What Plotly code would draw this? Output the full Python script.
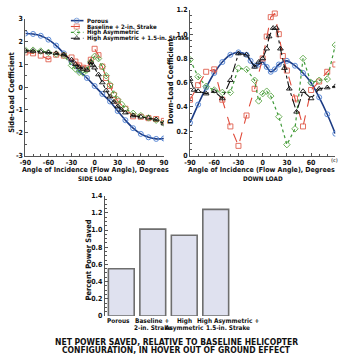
import plotly.graph_objects as go

# ---------------- data ----------------
# Side load (left panel)
side_porous_x = [-90, -80, -70, -60, -50, -40, -30, -20, -10, 0, 10, 20, 30, 40, 50, 60, 70, 80, 90]
side_porous_y = [2.35, 2.33, 2.25, 2.08, 1.82, 1.48, 1.10, 0.72, 0.40, 0.05, -0.30, -0.63, -1.05, -1.45, -1.80, -2.05, -2.20, -2.27, -2.25]

side_base_x = [-90, -80, -70, -60, -50, -40, -30, -25, -20, -15, -10, -5, 0, 5, 10, 15, 20, 25, 30, 40, 50, 60, 70, 80, 90]
side_base_y = [1.52, 1.48, 1.38, 1.22, 1.42, 1.38, 1.30, 1.12, 0.95, 0.85, 0.82, 1.20, 1.68, 1.40, 0.90, 0.40, 0.05, -0.35, -0.62, -0.95, -1.28, -1.30, -1.36, -1.40, -1.48]

side_high_x = [-90, -80, -70, -60, -50, -40, -30, -25, -20, -15, -10, -5, 0, 5, 10, 15, 20, 25, 30, 35, 40, 50, 60, 70, 80, 90]
side_high_y = [1.62, 1.62, 1.58, 1.52, 1.45, 1.40, 0.95, 0.80, 0.65, 0.62, 0.75, 1.10, 1.35, 1.25, 0.90, 0.50, 0.10, -0.30, -0.55, -0.75, -0.95, -1.15, -1.25, -1.35, -1.45, -1.58]

side_hs_x = [-90, -80, -70, -60, -50, -40, -30, -25, -20, -15, -10, -5, -2, 0, 5, 10, 15, 20, 25, 30, 35, 40, 50, 60, 70, 80, 90]
side_hs_y = [1.60, 1.58, 1.55, 1.52, 1.48, 1.42, 1.20, 1.00, 0.88, 0.80, 0.75, 1.10, 0.95, 0.85, 0.55, 0.20, -0.15, -0.42, -0.65, -0.85, -1.00, -1.12, -1.25, -1.30, -1.35, -1.42, -1.60]

# Down load (right panel)
down_porous_x = [-90, -80, -70, -60, -50, -40, -30, -20, -15, -10, -5, 0, 5, 10, 15, 20, 30, 40, 50, 60, 70, 80, 90]
down_porous_y = [0.27, 0.42, 0.56, 0.68, 0.77, 0.83, 0.85, 0.83, 0.78, 0.74, 0.75, 0.77, 0.73, 0.69, 0.71, 0.75, 0.78, 0.74, 0.68, 0.60, 0.48, 0.34, 0.18]

down_base_x = [-90, -80, -70, -60, -50, -40, -30, -20, -10, 0, 5, 10, 15, 20, 25, 30, 40, 50, 60, 70, 80, 90]
down_base_y = [0.46, 0.58, 0.69, 0.71, 0.46, 0.24, 0.08, 0.33, 0.55, 0.80, 0.98, 1.14, 1.17, 1.00, 0.82, 0.70, 0.47, 0.24, 0.54, 0.61, 0.69, 0.75]

down_high_x = [-90, -80, -70, -60, -50, -40, -30, -20, -10, -5, 0, 5, 10, 20, 30, 40, 50, 60, 70, 80, 90]
down_high_y = [0.79, 0.65, 0.57, 0.54, 0.52, 0.52, 0.72, 0.71, 0.62, 0.45, 0.51, 0.53, 0.49, 0.32, 0.09, 0.22, 0.80, 0.60, 0.62, 0.63, 0.91]

down_hs_x = [-90, -85, -80, -70, -60, -50, -40, -30, -20, -10, -5, 0, 5, 8, 13, 17, 22, 27, 33, 42, 50, 60, 70, 80, 90]
down_hs_y = [0.63, 0.54, 0.53, 0.51, 0.53, 0.47, 0.62, 0.84, 0.83, 0.73, 0.77, 0.80, 0.88, 0.98, 1.05, 1.05, 0.88, 0.72, 0.55, 0.36, 0.53, 0.47, 0.55, 0.56, 0.57]

# Bar chart
bar_categories = ["Porous", "Baseline + 2-in. Strake", "High Asymmetric", "High Asymmetric + 1.5-in. Strake"]
bar_label_lines = [["Porous"], ["Baseline +", "2-in. Strake"], ["High", "Asymmetric"],
                   ["High Asymmetric +", "1.5-in. Strake"]]
bar_values = [0.55, 1.01, 0.94, 1.24]

# Tick labels
angle_ticks = [-90, -60, -30, 0, 30, 60, 90]
angle_labels_left = ["-90", "-60", "-30", "0", "30", "60", "90"]
angle_labels_right = ["-90", "-60", "-30", "0", "30", "60", ""]
side_ticks = [-3, -2, -1, 0, 1, 2, 3]
side_labels = ["-3", "-2", "-1", "0", "1", "2", "3"]
down_ticks = [0, 0.2, 0.4, 0.6, 0.8, 1.0, 1.2]
down_labels = ["0", "0.2", "0.4", "0.6", "0.8", "1.0", "1.2"]
bar_ticks = [0, 0.2, 0.4, 0.6, 0.8, 1.0, 1.2, 1.4]
bar_labels = ["0", "0.2", "0.4", "0.6", "0.8", "1.0", "1.2", "1.4"]

series_names = ["Porous", "Baseline + 2-in. Strake", "High Asymmetric", "High Asymmetric + 1.5-in. Strake"]

# ---------------- styling ----------------
W, H = 350, 361
F = "DejaVu Sans Condensed, Liberation Sans Narrow, Liberation Sans, sans-serif"
AX = "#555555"
styles = [
    dict(line=dict(color="#1d3c84", width=1.6, dash="solid", shape="spline"),
         marker=dict(symbol="circle-open", size=5, color="#4d7fd1", line=dict(width=0.9))),
    dict(line=dict(color="#e04a3a", width=1.1, dash="dash"),
         marker=dict(symbol="square-open", size=5, color="#e0604f", line=dict(width=0.9))),
    dict(line=dict(color="#3f9a3a", width=1.2, dash="dot"),
         marker=dict(symbol="diamond-open", size=5, color="#5fa84a", line=dict(width=0.9))),
    dict(line=dict(color="#111111", width=1.1, dash="dashdot"),
         marker=dict(symbol="triangle-up-open", size=5, color="#111111", line=dict(width=0.9))),
]


def px(x):
    return x / W


def py(y):
    return 1 - y / H


fig = go.Figure()

side_sets = [(side_porous_x, side_porous_y), (side_base_x, side_base_y),
             (side_high_x, side_high_y), (side_hs_x, side_hs_y)]
down_sets = [(down_porous_x, down_porous_y), (down_base_x, down_base_y),
             (down_high_x, down_high_y), (down_hs_x, down_hs_y)]

for i, (xs, ys) in enumerate(side_sets):
    fig.add_trace(go.Scatter(x=xs, y=ys, mode="lines+markers", name=series_names[i],
                             showlegend=False, xaxis="x", yaxis="y", **styles[i]))
for i, (xs, ys) in enumerate(down_sets):
    fig.add_trace(go.Scatter(x=xs, y=ys, mode="lines+markers", name=series_names[i],
                             showlegend=False, xaxis="x2", yaxis="y2", **styles[i]))

fig.add_trace(go.Bar(x=bar_categories, y=bar_values, xaxis="x3", yaxis="y3", showlegend=False,
                     marker=dict(color="#dfe1ef", line=dict(color="#6e6e6e", width=1.6))))

# custom compact legend (pixel-space overlay axis)
leg_rows = [17, 23, 29, 35]
for i, ry in enumerate(leg_rows):
    st = styles[i]
    ln = {k: v for k, v in st["line"].items() if k != "shape"}
    mk = dict(st["marker"])
    mk["size"] = [0, 5, 0]
    fig.add_trace(go.Scatter(x=[67, 73, 80], y=[ry, ry, ry], mode="lines+markers", line=ln, marker=mk,
                             xaxis="x4", yaxis="y4", showlegend=False, hoverinfo="skip"))

tickfont = dict(family=F, size=7, color="#111111", weight="bold")


def frange(a, b, step):
    n = int(round((b - a) / step))
    return [round(a + k * step, 4) for k in range(n + 1)]


def axis(domain, rng, tickvals, ticktext, minor_vals, anchor):
    return dict(domain=domain, range=rng, showline=True, linecolor=AX, linewidth=1,
                tickmode="array", ticks="inside", ticklen=3, tickcolor=AX, tickwidth=1,
                tickvals=tickvals, ticktext=ticktext, tickfont=tickfont, tickangle=0,
                showgrid=False, zeroline=False, anchor=anchor,
                minor=dict(ticks="inside", ticklen=2, tickmode="array", tickvals=minor_vals,
                           tickcolor=AX, showgrid=False))


annotations = []


def ann(text, x, y, size=8, angle=0, xanchor="center", color="#111111"):
    annotations.append(dict(text=text, x=px(x), y=py(y), xref="paper", yref="paper", showarrow=False,
                            xanchor=xanchor, yanchor="middle", textangle=angle,
                            font=dict(family=F, size=size, color=color, weight="bold")))


for i, ry in enumerate(leg_rows):
    ann(series_names[i], 82, ry, size=6, xanchor="left")

ann("Side-Load Coefficient", 5, 90, size=7.5, angle=-90)
ann("Down-Load Coefficient", 170, 79, size=7.5, angle=-90)
ann("Angle of Incidence (Flow Angle), Degrees", 92, 170, size=7)
ann("Angle of Incidence (Flow Angle), Degrees", 264, 170, size=7)
ann("SIDE LOAD", 92, 178.5, size=6.3)
ann("DOWN LOAD", 265, 178.5, size=6.3)
ann("(c)", 339, 160, size=5, color="#666666")
ann("Percent Power Saved", 85, 262, size=7.5, angle=-90)
ann("NET POWER SAVED, RELATIVE TO BASELINE HELICOPTER", 176, 346, size=8.5)
ann("CONFIGURATION, IN HOVER OUT OF GROUND EFFECT", 176, 354, size=8.5)

# bar category labels, anchored to the category axis
label_shift = [-3, 0, 0, 12]
for cat, lines, sh in zip(bar_categories, bar_label_lines, label_shift):
    for j, line_text in enumerate(lines):
        annotations.append(dict(text=line_text, x=cat, xref="x3", y=py(324 + 7 * j), yref="paper",
                                showarrow=False, xanchor="center", yanchor="middle", xshift=sh,
                                font=dict(family=F, size=6.4, color="#111111", weight="bold")))

fig.update_layout(
    width=W, height=H, margin=dict(l=0, r=0, t=0, b=0),
    paper_bgcolor="white", plot_bgcolor="rgba(0,0,0,0)", showlegend=False,
    xaxis=axis([px(20), px(163)], [-90, 90], angle_ticks, angle_labels_left, frange(-90, 90, 10), "y"),
    yaxis=axis([py(155), py(15)], [-3, 3], side_ticks, side_labels, frange(-3, 3, 0.5), "x"),
    xaxis2=axis([px(190), px(340)], [-90, 90], angle_ticks, angle_labels_right, frange(-90, 90, 10), "y2"),
    yaxis2=axis([py(155), py(6)], [0, 1.2], down_ticks, down_labels, frange(0, 1.2, 0.05), "x2"),
    xaxis3=dict(domain=[px(102), px(263)], anchor="y3", showline=False, ticks="", showticklabels=False),
    yaxis3=axis([py(319), py(196)], [0, 1.4], bar_ticks, bar_labels, frange(0, 1.4, 0.05), "x3"),
    xaxis4=dict(domain=[0, 1], range=[0, W], visible=False, anchor="y4", fixedrange=True),
    yaxis4=dict(domain=[0, 1], range=[H, 0], visible=False, anchor="x4", fixedrange=True),
    bargap=0.18,
    annotations=annotations,
)

fig.write_html("out.html")
